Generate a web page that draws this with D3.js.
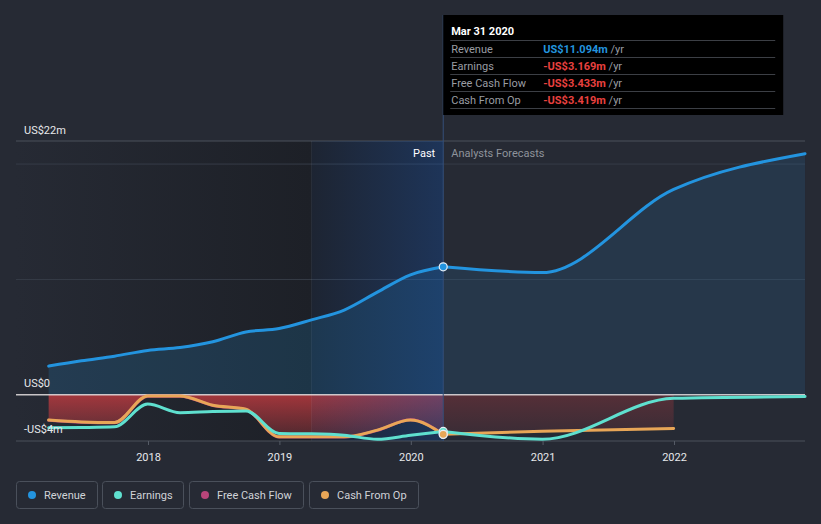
<!DOCTYPE html>
<html><head><meta charset="utf-8">
<script src="https://cdn.jsdelivr.net/npm/d3@7"></script>
<style>
html,body{margin:0;padding:0;background:#262a34;}
svg{display:block;font-family:Roboto,"Noto Sans",sans-serif;}
</style></head><body>
<svg id="c" width="821" height="524"></svg>
<script>
// ---------- data ----------
const pastDates = ["2017-03-31","2017-06-30","2017-09-30","2017-12-31","2018-03-31","2018-06-30","2018-09-30","2018-12-31","2019-03-31","2019-06-30","2019-09-30","2019-12-31","2020-03-31"];
const revenuePast  = [2.49, 2.95, 3.35, 3.85, 4.1, 4.6, 5.45, 5.75, 6.5, 7.35, 8.9, 10.4, 11.094];
const earningsPast = [-2.86, -2.83, -2.77, -0.8, -1.55, -1.45, -1.4, -3.35, -3.38, -3.5, -3.85, -3.5, -3.169];
const fcfPast      = [-2.2, -2.37, -2.42, -0.12, -0.12, -0.92, -1.27, -3.66, -3.66, -3.66, -3.08, -2.15, -3.433];
const cfoPast      = [-2.19, -2.35, -2.4, -0.1, -0.1, -0.9, -1.25, -3.64, -3.64, -3.64, -3.06, -2.19, -3.419];
const forecastDates    = ["2020-03-31","2020-12-31","2021-12-31","2022-12-31"];
const revenueForecast  = [11.094, 10.6, 17.8, 20.9];
const earningsForecast = [-3.169, -3.85, -0.3, -0.15];
const cfoForecastDates = ["2020-03-31","2020-12-31","2021-12-31"];
const cfoForecast      = [-3.419, -3.15, -2.92];
const yearTicks = ["2018","2019","2020","2021","2022"];
const yLabelValues = [22, 0, -4];
const yLabels = ["US$22m","US$0","-US$4m"];
const gridValues = [20, 10];
const legendItems = ["Revenue","Earnings","Free Cash Flow","Cash From Op"];
const tooltipTitle = "Mar 31 2020";
const tooltipRows = ["Revenue","Earnings","Free Cash Flow","Cash From Op"];
const tooltipValues = ["US$11.094m","-US$3.169m","-US$3.433m","-US$3.419m"];
const pastStart = "2019-03-31", nowDate = "2020-03-31";

// ---------- setup ----------
const parse = d3.utcParse("%Y-%m-%d");
const C = {rev:"#2394df", earn:"#5fe0cf", fcf:"#b8457a", cfo:"#e8a657"};
const svg = d3.select("#c");
const W = 821, H = 524, L = 16, R = 805;
const x = d3.scaleUtc().domain([parse("2018-01-01"), parse("2022-01-01")]).range([148, 674]);
const y = d3.scaleLinear().domain([-4, 22]).range([441, 141]);
const zip = (ds, vs) => ds.map((d, i) => ({d: parse(d), v: vs[i]}));
const revP = zip(pastDates, revenuePast), earnP = zip(pastDates, earningsPast),
      fcfP = zip(pastDates, fcfPast), cfoP = zip(pastDates, cfoPast),
      revF = zip(forecastDates, revenueForecast), earnF = zip(forecastDates, earningsForecast),
      cfoF = zip(cfoForecastDates, cfoForecast);
const xPS = x(parse(pastStart)), xNow = x(parse(nowDate));

const defs = svg.append("defs");
const lg1 = defs.append("linearGradient").attr("id","darkL").attr("x1",0).attr("x2",1).attr("y1",0).attr("y2",0);
lg1.append("stop").attr("offset",0).attr("stop-color","#262a34");
lg1.append("stop").attr("offset",1).attr("stop-color","#1d2027");
const lg2 = defs.append("linearGradient").attr("id","blueOv").attr("x1",0).attr("x2",1).attr("y1",0).attr("y2",0);
lg2.append("stop").attr("offset",0).attr("stop-color","#1f56a8").attr("stop-opacity",0.08);
lg2.append("stop").attr("offset",1).attr("stop-color","#1f56a8").attr("stop-opacity",0.38);
const lg3 = defs.append("linearGradient").attr("id","redG").attr("gradientUnits","userSpaceOnUse")
  .attr("x1",0).attr("x2",0).attr("y1",y(0)).attr("y2",y(-4));
lg3.append("stop").attr("offset",0).attr("stop-color","#c23b40").attr("stop-opacity",0.8);
lg3.append("stop").attr("offset",1).attr("stop-color","#c23b40").attr("stop-opacity",0.25);

svg.append("rect").attr("width",W).attr("height",H).attr("fill","#262a34");
// dark past background
svg.append("rect").attr("x",L).attr("y",y(22)).attr("width",xPS-L).attr("height",y(-4)-y(22)).attr("fill","url(#darkL)");
svg.append("rect").attr("x",xPS).attr("y",y(22)).attr("width",xNow-xPS).attr("height",y(-4)-y(22)).attr("fill","#1d2028");

// grid
svg.selectAll(".g").data(gridValues).enter().append("line")
  .attr("x1",L).attr("x2",R).attr("y1",d=>y(d)).attr("y2",d=>y(d)).attr("stroke","#363c47").attr("stroke-width",1);
svg.append("line").attr("x1",L).attr("x2",R).attr("y1",y(22)).attr("y2",y(22)).attr("stroke","#4a505b");

const curve = d3.curveMonotoneX;
const area0 = d3.area().x(d=>x(d.d)).y0(y(0)).y1(d=>y(d.v)).curve(curve);
const line = d3.line().x(d=>x(d.d)).y(d=>y(d.v)).curve(curve);

// fills
svg.append("path").attr("d",area0(revP)).attr("fill",C.rev).attr("fill-opacity",0.18);
svg.append("path").attr("d",area0(revF)).attr("fill",C.rev).attr("fill-opacity",0.13);
svg.append("path").attr("d",area0(cfoP)).attr("fill","url(#redG)");
svg.append("path").attr("d",area0(cfoF)).attr("fill","url(#redG)").attr("opacity",0.38);

// blue highlight overlay
svg.append("rect").attr("x",xPS).attr("y",y(22)).attr("width",xNow-xPS).attr("height",y(-4)-y(22)).attr("fill","url(#blueOv)");
svg.append("line").attr("x1",xPS).attr("x2",xPS).attr("y1",y(22)).attr("y2",y(-4)).attr("stroke","#ffffff").attr("stroke-opacity",0.05);

// zero & bottom line
svg.append("line").attr("x1",L).attr("x2",R).attr("y1",y(0)).attr("y2",y(0)).attr("stroke","#e6e0e2").attr("stroke-opacity",0.85).attr("stroke-width",1.5);
svg.append("line").attr("x1",L).attr("x2",R).attr("y1",y(-4)).attr("y2",y(-4)).attr("stroke","#4a505b");

// now line
svg.append("line").attr("x1",xNow).attr("x2",xNow).attr("y1",15).attr("y2",y(-4)).attr("stroke","#35507a").attr("stroke-width",1);

// lines
const drawLine = (data, col) => svg.append("path").attr("d",line(data)).attr("fill","none").attr("stroke",col).attr("stroke-width",3).attr("stroke-linecap","round");
drawLine(revP, C.rev); drawLine(revF, C.rev);
drawLine(fcfP, C.fcf);
drawLine(cfoP, C.cfo); drawLine(cfoF, C.cfo);
drawLine(earnP, C.earn); drawLine(earnF, C.earn);

// dots at now
const dot = (v, col) => svg.append("circle").attr("cx",xNow).attr("cy",y(v)).attr("r",4).attr("fill",col).attr("stroke","#e8eef5").attr("stroke-width",1.2);
dot(revenuePast[revenuePast.length-1], C.rev);
dot(earningsPast[earningsPast.length-1], C.earn);
dot(fcfPast[fcfPast.length-1], C.fcf);
dot(cfoPast[cfoPast.length-1], C.cfo);

// labels
svg.append("text").attr("x",xNow-8).attr("y",157).attr("text-anchor","end").attr("fill","#ffffff").attr("font-size",11).text("Past");
svg.append("text").attr("x",xNow+8).attr("y",157).attr("fill","#8e939b").attr("font-size",11).text("Analysts Forecasts");
svg.selectAll(".yl").data(yLabelValues).enter().append("text")
  .attr("x",24).attr("y",(d,i)=>[134,387,433][i]).attr("fill","#e6e8eb").attr("font-size",11).text((d,i)=>yLabels[i]);

// x axis
const ax = svg.append("g").attr("transform",`translate(0,${y(-4)})`)
  .call(d3.axisBottom(x).tickValues(yearTicks.map(t=>parse(t+"-01-01"))).tickFormat(d3.utcFormat("%Y")).tickSize(4).tickPadding(8));
ax.select(".domain").remove();
ax.selectAll("line").attr("stroke","#555b66");
ax.selectAll("text").attr("fill","#e6e8eb").attr("font-size",11).attr("font-family","Roboto,sans-serif");

// tooltip
const tt = svg.append("g");
tt.append("rect").attr("x",xNow).attr("y",15).attr("width",340).attr("height",100).attr("fill","#000");
tt.append("text").attr("x",xNow+8).attr("y",35).attr("fill","#fff").attr("font-size",11).attr("font-weight","bold").text(tooltipTitle);
tooltipRows.forEach((r,i)=>{
  const yy = 40 + i*17;
  tt.append("line").attr("x1",xNow+7).attr("x2",xNow+332).attr("y1",yy+0.5).attr("y2",yy+0.5).attr("stroke","#3c3f45");
  tt.append("text").attr("x",xNow+8).attr("y",yy+12.5).attr("fill","#9a9da3").attr("font-size",11).text(r);
  const t = tt.append("text").attr("x",xNow+100).attr("y",yy+12.5).attr("font-size",11);
  t.append("tspan").attr("fill", i===0 ? C.rev : "#e8403f").attr("font-weight","bold").text(tooltipValues[i]);
  t.append("tspan").attr("fill","#9a9da3").text(" /yr");
});
tt.append("line").attr("x1",xNow+7).attr("x2",xNow+332).attr("y1",108.5).attr("y2",108.5).attr("stroke","#3c3f45");

// legend
const legCols = [C.rev, C.earn, C.fcf, C.cfo];
const legX = [16, 102, 189, 309], legW = [82, 82, 115, 110];
legendItems.forEach((n,i)=>{
  const g = svg.append("g").attr("transform",`translate(${legX[i]},481)`);
  g.append("rect").attr("x",0.5).attr("y",0.5).attr("width",legW[i]-1).attr("height",27).attr("rx",3).attr("fill","none").attr("stroke","#4a505b");
  g.append("circle").attr("cx",16).attr("cy",14).attr("r",4).attr("fill",legCols[i]);
  g.append("text").attr("x",28).attr("y",18).attr("fill","#d0d3d8").attr("font-size",11).text(n);
});
</script>
</body></html>
